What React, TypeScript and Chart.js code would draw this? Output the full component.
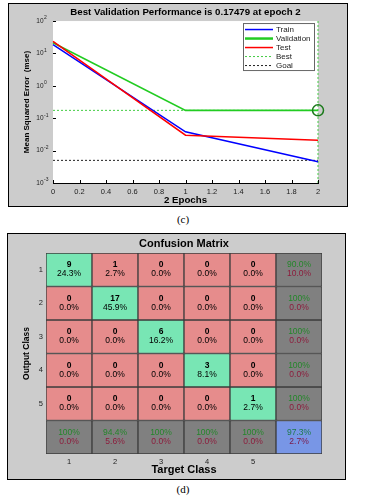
import React, { useEffect, useRef } from "react";
import { Chart, registerables } from "chart.js";
Chart.register(...registerables);

const FONT = "'Liberation Sans', Arial, sans-serif";

// ---- Performance plot data ----
const epochs = [0, 1, 2];
const trainPerf = [18.6, 0.038, 0.0045];
const validationPerf = [21.5, 0.17479, 0.17479];
const testPerf = [23.7, 0.03, 0.021];
const bestEpoch = 2;
const bestPerf = 0.17479;
const goalPerf = 0.005;
const yTickValues = [0.001, 0.01, 0.1, 1, 10, 100];
const yTickBase = "10";
const yTickExponents = ["-3", "-2", "-1", "0", "1", "2"];
const xTickValues = [0, 0.2, 0.4, 0.6, 0.8, 1, 1.2, 1.4, 1.6, 1.8, 2];
const xTickLabels = ["0", "0.2", "0.4", "0.6", "0.8", "1", "1.2", "1.4", "1.6", "1.8", "2"];
const perfTitle = "Best Validation Performance is 0.17479 at epoch 2";

// ---- Confusion matrix data ----
const targetClasses = ["1", "2", "3", "4", "5"];
const outputClasses = ["1", "2", "3", "4", "5"];
const counts = [
  [9, 1, 0, 0, 0],
  [0, 17, 0, 0, 0],
  [0, 0, 6, 0, 0],
  [0, 0, 0, 3, 0],
  [0, 0, 0, 0, 1],
];
const cellPercents = [
  ["24.3%", "2.7%", "0.0%", "0.0%", "0.0%"],
  ["0.0%", "45.9%", "0.0%", "0.0%", "0.0%"],
  ["0.0%", "0.0%", "16.2%", "0.0%", "0.0%"],
  ["0.0%", "0.0%", "0.0%", "8.1%", "0.0%"],
  ["0.0%", "0.0%", "0.0%", "0.0%", "2.7%"],
];
const rowCorrect = ["90.0%", "100%", "100%", "100%", "100%"];
const rowWrong = ["10.0%", "0.0%", "0.0%", "0.0%", "0.0%"];
const colCorrect = ["100%", "94.4%", "100%", "100%", "100%"];
const colWrong = ["0.0%", "5.6%", "0.0%", "0.0%", "0.0%"];
const totalCorrect = "97.3%";
const totalWrong = "2.7%";

function PerformanceChart() {
  const ref = useRef<HTMLCanvasElement>(null);
  useEffect(() => {
    const pts = (ys: number[]) => epochs.map((x, i) => ({ x, y: ys[i] }));
    const bgPlugin = {
      id: "plotBg",
      beforeDatasetsDraw(chart: any) {
        const { ctx, chartArea: a } = chart;
        ctx.save();
        ctx.fillStyle = "#ffffff";
        ctx.fillRect(a.left, a.top, a.right - a.left, a.bottom - a.top);
        ctx.restore();
      },
    };
    const tickPlugin = {
      id: "innerTicks",
      afterDatasetsDraw(chart: any) {
        const { ctx, chartArea: a, scales } = chart;
        ctx.save();
        ctx.strokeStyle = "#000";
        ctx.lineWidth = 1;
        ctx.beginPath();
        xTickValues.forEach((v) => {
          const px = Math.round(scales.x.getPixelForValue(v)) + 0.5;
          ctx.moveTo(px, a.bottom);
          ctx.lineTo(px, a.bottom - 3);
        });
        yTickValues.forEach((v) => {
          const py = Math.round(scales.y.getPixelForValue(v)) + 0.5;
          ctx.moveTo(a.left, py);
          ctx.lineTo(a.left + 3, py);
        });
        ctx.stroke();
        // exponents of the decade labels
        ctx.fillStyle = "#222";
        ctx.font = `5px ${FONT}`;
        ctx.textAlign = "left";
        ctx.textBaseline = "middle";
        yTickValues.forEach((v, i) => {
          const py = scales.y.getPixelForValue(v);
          ctx.fillText(yTickExponents[i], a.left - 9, py - 3);
        });
        ctx.restore();
      },
    };
    const legendPlugin = {
      id: "perfLegend",
      afterDatasetsDraw(chart: any) {
        const { ctx, chartArea: a } = chart;
        const items = chart.data.datasets.filter((d: any) => d.inLegend);
        const w = 72;
        const h = 48;
        const x0 = a.right - 3 - w;
        const y0 = a.top + 2;
        ctx.save();
        ctx.fillStyle = "#ffffff";
        ctx.fillRect(x0, y0, w, h);
        ctx.strokeStyle = "#666";
        ctx.lineWidth = 1;
        ctx.strokeRect(x0 + 0.5, y0 + 0.5, w - 1, h - 1);
        items.forEach((d: any, i: number) => {
          const y = y0 + 6.5 + i * 9;
          ctx.beginPath();
          ctx.strokeStyle = d.borderColor;
          ctx.lineWidth = d.legendWidth || d.borderWidth;
          ctx.setLineDash(d.borderDash || []);
          ctx.moveTo(x0 + 2, y);
          ctx.lineTo(x0 + 30, y);
          ctx.stroke();
          ctx.setLineDash([]);
          ctx.fillStyle = "#222";
          ctx.font = `8px ${FONT}`;
          ctx.textBaseline = "middle";
          ctx.textAlign = "left";
          ctx.fillText(d.label, x0 + 33, y);
        });
        ctx.restore();
      },
    };
    const chart = new Chart(ref.current!, {
      type: "line",
      data: {
        datasets: [
          { label: "Train", data: pts(trainPerf), borderColor: "#0000ff", borderWidth: 1.5, pointRadius: 0, inLegend: true, order: 3 } as any,
          { label: "Validation", data: pts(validationPerf), borderColor: "#22cc22", borderWidth: 1.6, legendWidth: 2.5, pointRadius: 0, inLegend: true, order: 2 } as any,
          { label: "Test", data: pts(testPerf), borderColor: "#ff0000", borderWidth: 1.5, pointRadius: 0, inLegend: true, order: 1 } as any,
          { label: "Best", data: [{ x: epochs[0], y: bestPerf }, { x: bestEpoch, y: bestPerf }], borderColor: "#44cc44", borderWidth: 1, borderDash: [2, 2], pointRadius: 0, inLegend: true, order: 5 } as any,
          { label: "Goal", data: [{ x: epochs[0], y: goalPerf }, { x: epochs[epochs.length - 1], y: goalPerf }], borderColor: "#222222", borderWidth: 1, borderDash: [2, 2], pointRadius: 0, inLegend: true, order: 5 } as any,
          { label: "BestEpoch", data: [{ x: bestEpoch, y: yTickValues[0] }, { x: bestEpoch, y: yTickValues[yTickValues.length - 1] }], borderColor: "#44cc44", borderWidth: 1, borderDash: [2, 2], pointRadius: 0, order: 5 } as any,
          { label: "BestPoint", data: [{ x: bestEpoch, y: bestPerf }], showLine: false, pointRadius: 5.5, pointBorderWidth: 1.5, pointBorderColor: "#1a7a1a", pointBackgroundColor: "rgba(0,0,0,0)", borderColor: "#1a7a1a", order: 0 } as any,
        ],
      },
      options: {
        animation: false,
        responsive: false,
        clip: false as any,
        layout: { padding: { left: 0, right: 29, top: 0, bottom: 0 } },
        plugins: {
          legend: { display: false },
          tooltip: { enabled: false },
          title: {
            display: true,
            text: perfTitle,
            fullSize: false,
            color: "#000",
            font: { family: FONT, size: 9.7, weight: "bold" },
            padding: { top: 2.5, bottom: 2.9 },
          },
        },
        scales: {
          x: {
            type: "linear",
            min: 0,
            max: 2,
            afterBuildTicks(scale: any) {
              scale.ticks = xTickValues.map((v) => ({ value: v }));
            },
            afterFit(scale: any) {
              scale.height = 23;
            },
            ticks: {
              callback: (_v: any, i: number) => xTickLabels[i],
              font: { family: FONT, size: 7.5 },
              color: "#222",
              padding: 4,
              maxRotation: 0,
              autoSkip: false,
            },
            grid: { display: false, drawTicks: false },
            border: { display: true, color: "#000", width: 1 },
            title: { display: true, text: "2 Epochs", color: "#000", font: { family: FONT, size: 9.7, weight: "bold" }, padding: { top: 0, bottom: 0 } },
          },
          y: {
            type: "logarithmic",
            min: yTickValues[0],
            max: yTickValues[yTickValues.length - 1],
            afterBuildTicks(scale: any) {
              scale.ticks = yTickValues.map((v) => ({ value: v }));
            },
            afterFit(scale: any) {
              scale.width = 44;
            },
            ticks: {
              callback: () => yTickBase,
              font: { family: FONT, size: 6.5 },
              color: "#222",
              padding: 9.5,
              autoSkip: false,
            },
            grid: { display: false, drawTicks: false },
            border: { display: true, color: "#000", width: 1 },
            title: { display: true, text: "Mean Squared Error  (mse)", color: "#000", font: { family: FONT, size: 8, weight: "bold" }, padding: { top: 13.2, bottom: 0 } },
          },
        },
      } as any,
      plugins: [bgPlugin, tickPlugin, legendPlugin],
    });
    return () => chart.destroy();
  }, []);
  return <canvas ref={ref} width={338} height={202} style={{ display: "block" }} />;
}

function ConfusionChart() {
  const ref = useRef<HTMLCanvasElement>(null);
  useEffect(() => {
    const colLabels = [...targetClasses, ""];
    const nR = outputClasses.length;
    const nC = targetClasses.length;
    const cellColor = (r: number, c: number) => {
      if (r === nR && c === nC) return "#7896e6";
      if (r === nR || c === nC) return "#808080";
      return r === c ? "#78e6b4" : "#e68c8c";
    };
    const rows = [...outputClasses, ""];
    const datasets = rows.map((lab, r) => ({
      label: lab || "summary",
      data: colLabels.map(() => [r, r + 1]),
      backgroundColor: colLabels.map((_, c) => cellColor(r, c)),
      borderColor: "#3c3c3c",
      borderWidth: 1,
      borderSkipped: false,
      grouped: false,
      categoryPercentage: 1,
      barPercentage: 1,
    }));
    const textPlugin = {
      id: "cellText",
      afterDatasetsDraw(chart: any) {
        const { ctx, scales } = chart;
        ctx.save();
        ctx.textAlign = "center";
        ctx.textBaseline = "middle";
        const GREEN = "#24862a";
        const RED = "#8c1c3c";
        for (let r = 0; r <= nR; r++) {
          for (let c = 0; c <= nC; c++) {
            const cx = scales.x.getPixelForValue(c);
            const cy = scales.y.getPixelForValue(r + 0.5);
            let top: string, bot: string, topColor: string, botColor: string, topBold: boolean;
            if (r < nR && c < nC) {
              top = String(counts[r][c]);
              bot = cellPercents[r][c];
              topColor = "#000";
              botColor = "#000";
              topBold = true;
            } else if (r < nR) {
              top = rowCorrect[r];
              bot = rowWrong[r];
              topColor = GREEN;
              botColor = RED;
              topBold = false;
            } else if (c < nC) {
              top = colCorrect[c];
              bot = colWrong[c];
              topColor = GREEN;
              botColor = RED;
              topBold = false;
            } else {
              top = totalCorrect;
              bot = totalWrong;
              topColor = "#1f7a4a";
              botColor = "#7a1a4a";
              topBold = false;
            }
            ctx.font = `${topBold ? "bold " : ""}8.5px ${FONT}`;
            ctx.fillStyle = topColor;
            ctx.fillText(top, cx, cy - 4.6);
            ctx.font = `8.5px ${FONT}`;
            ctx.fillStyle = botColor;
            ctx.fillText(bot, cx, cy + 4);
          }
        }
        ctx.restore();
      },
    };
    const chart = new Chart(ref.current!, {
      type: "bar",
      data: { labels: colLabels, datasets: datasets as any },
      options: {
        animation: false,
        responsive: false,
        layout: { padding: { left: 0, right: 23, top: 0, bottom: 0 } },
        plugins: {
          legend: { display: false },
          tooltip: { enabled: false },
          title: {
            display: true,
            text: "Confusion Matrix",
            fullSize: false,
            color: "#000",
            font: { family: FONT, size: 11, weight: "bold" },
            padding: { top: 3.4, bottom: 2.4 },
          },
        },
        scales: {
          x: {
            type: "category",
            offset: true,
            afterFit(scale: any) {
              scale.height = 25;
            },
            ticks: { font: { family: FONT, size: 7.5 }, color: "#222", padding: 3, maxRotation: 0 },
            grid: { display: false, drawTicks: false },
            border: { display: false },
            title: { display: true, text: "Target Class", color: "#000", font: { family: FONT, size: 11, weight: "bold" }, padding: { top: 0, bottom: 2.9 } },
          },
          y: {
            type: "linear",
            min: 0,
            max: rows.length,
            reverse: true,
            afterBuildTicks(scale: any) {
              scale.ticks = outputClasses.map((_, i) => ({ value: i + 0.5 }));
            },
            afterFit(scale: any) {
              scale.width = 38;
            },
            ticks: {
              callback: (_v: any, i: number) => outputClasses[i],
              font: { family: FONT, size: 7.5 },
              color: "#222",
              padding: 3,
              autoSkip: false,
            },
            grid: { display: false, drawTicks: false },
            border: { display: false },
            title: { display: true, text: "Output Class", color: "#000", font: { family: FONT, size: 8.5, weight: "bold" }, padding: { top: 13.9, bottom: 0 } },
          },
        },
      } as any,
      plugins: [textPlugin],
    });
    return () => chart.destroy();
  }, []);
  return <canvas ref={ref} width={337} height={245} style={{ display: "block" }} />;
}

const captionStyle: React.CSSProperties = {
  position: "absolute",
  left: 0,
  width: 366,
  textAlign: "center",
  fontFamily: "'Liberation Serif', 'Times New Roman', serif",
  fontSize: 11,
  lineHeight: "12px",
  color: "#000",
};

export default function App() {
  return (
    <div style={{ position: "absolute", left: 0, top: 0, width: 366, height: 502, background: "#fff" }}>
      <div style={{ position: "absolute", left: 8, top: 3, width: 340, height: 204, boxSizing: "border-box", border: "1px solid #000", background: "#cccccc" }}>
        <PerformanceChart />
      </div>
      <div style={{ ...captionStyle, top: 213 }}>(c)</div>
      <div style={{ position: "absolute", left: 7, top: 233, width: 339, height: 247, boxSizing: "border-box", border: "1px solid #000", background: "#cccccc" }}>
        <ConfusionChart />
      </div>
      <div style={{ ...captionStyle, top: 483 }}>(d)</div>
    </div>
  );
}
